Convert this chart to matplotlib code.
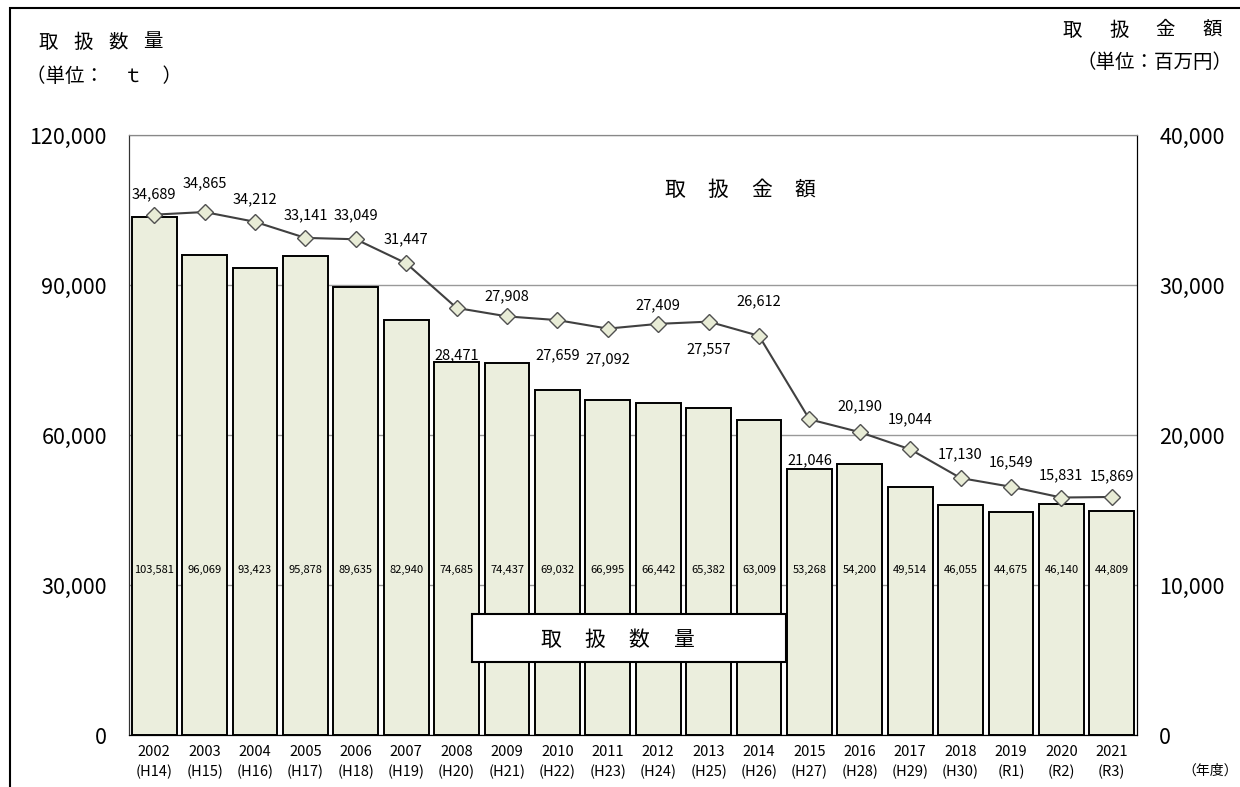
import matplotlib.pyplot as plt
from matplotlib.patches import Rectangle
from matplotlib.ticker import FuncFormatter

plt.rcParams['font.family'] = ['Noto Sans CJK JP', 'DejaVu Sans']

years = ['2002', '2003', '2004', '2005', '2006', '2007', '2008', '2009', '2010', '2011',
         '2012', '2013', '2014', '2015', '2016', '2017', '2018', '2019', '2020', '2021']
eras = ['H14', 'H15', 'H16', 'H17', 'H18', 'H19', 'H20', 'H21', 'H22', 'H23',
        'H24', 'H25', 'H26', 'H27', 'H28', 'H29', 'H30', 'R1', 'R2', 'R3']
quantity = [103581, 96069, 93423, 95878, 89635, 82940, 74685, 74437, 69032, 66995,
            66442, 65382, 63009, 53268, 54200, 49514, 46055, 44675, 46140, 44809]
amount = [34689, 34865, 34212, 33141, 33049, 31447, 28471, 27908, 27659, 27092,
          27409, 27557, 26612, 21046, 20190, 19044, 17130, 16549, 15831, 15869]

# label offsets (pixels) for the amount line, positive = above marker
label_dy = [20, 29, 23, 23, 24, 24, -47, 20, -35, -31,
            19, -28, 35, -41, 26, 30, 24, 24, 22, 21]

W, H = 1240, 787
fig = plt.figure(figsize=(12.4, 7.87), dpi=100)
ax = fig.add_axes([129 / W, 1 - 735 / H, 1008 / W, 600 / H])
ax2 = ax.twinx()


def spaced(px, py, chars, step, size, ha='left'):
    # draw characters one by one at a fixed pixel step (figure pixels)
    n = len(chars)
    if ha == 'right':
        px = px - step * (n - 1)
    elif ha == 'center':
        px = px - step * (n - 1) / 2
    for k, c in enumerate(chars):
        fig.text((px + k * step) / W, 1 - py / H, c, ha='center', va='center',
                 fontsize=size, zorder=10)


x = list(range(len(years)))
ax.bar(x, quantity, width=0.89, color='#EBEEDD', edgecolor='black', linewidth=1.4, zorder=2)
ax.set_xlim(-0.5, len(years) - 0.5)
ax.set_ylim(0, 120000)
ax.set_yticks([0, 30000, 60000, 90000, 120000])
ax.yaxis.grid(True, color='#999999', linewidth=1)
ax.set_axisbelow(True)
fmt = FuncFormatter(lambda v, p: f'{int(v):,}')
ax.yaxis.set_major_formatter(fmt)
ax.tick_params(axis='y', length=0, labelsize=15.5, pad=16)
ax.set_xticks(x)
ax.set_xticklabels([f'{y}\n({e})' for y, e in zip(years, eras)], fontsize=10.5, linespacing=1.5)
ax.tick_params(axis='x', length=0, pad=7)

for i, q in enumerate(quantity):
    ax.text(i, 33000, f'{q:,}', ha='center', va='center', fontsize=8, zorder=3)

ax2.plot(x, amount, color='#404040', linewidth=1.5, marker='D', markersize=8,
         markerfacecolor='#E8ECD6', markeredgecolor='#505050', markeredgewidth=1, zorder=4)
ax2.set_ylim(0, 40000)
ax2.set_yticks([0, 10000, 20000, 30000, 40000])
ax2.yaxis.set_major_formatter(fmt)
ax2.tick_params(axis='y', length=0, labelsize=15.5, pad=16)
for i, a in enumerate(amount):
    ax2.annotate(f'{a:,}', (i, a), xytext=(0, label_dy[i]), textcoords='offset pixels',
                 ha='center', va='center', fontsize=10.5)

for a in (ax, ax2):
    a.spines['top'].set_color('#888888')
    a.spines['left'].set_color('#333333')
    a.spines['right'].set_color('black')

ax2.add_patch(Rectangle((0.340, 0.1217), 0.3115, 0.08, transform=ax2.transAxes,
                        facecolor='white', edgecolor='black', linewidth=1.5, zorder=5))

spaced(740, 190, '取扱金額', 43.5, 15, ha='center')
spaced(617, 640, '取扱数量', 44, 15, ha='center')
spaced(48, 42, '取扱数量', 35, 14)
fig.text(26 / W, 1 - 77 / H, '（単位：　ｔ　）', ha='left', va='center', fontsize=14)
spaced(1212, 30, '取扱金額', 46.5, 14, ha='right')
fig.text(1233 / W, 1 - 62 / H, '（単位：百万円）', ha='right', va='center', fontsize=14)
fig.text(1210 / W, 1 - 771 / H, '（年度）', ha='center', va='center', fontsize=10)

fig.patches.append(Rectangle((10 / W, -0.05), 1.0, 1 - 8 / H + 0.05, transform=fig.transFigure,
                             fill=False, edgecolor='black', linewidth=1.5))

fig.savefig('out.png', dpi=100)
